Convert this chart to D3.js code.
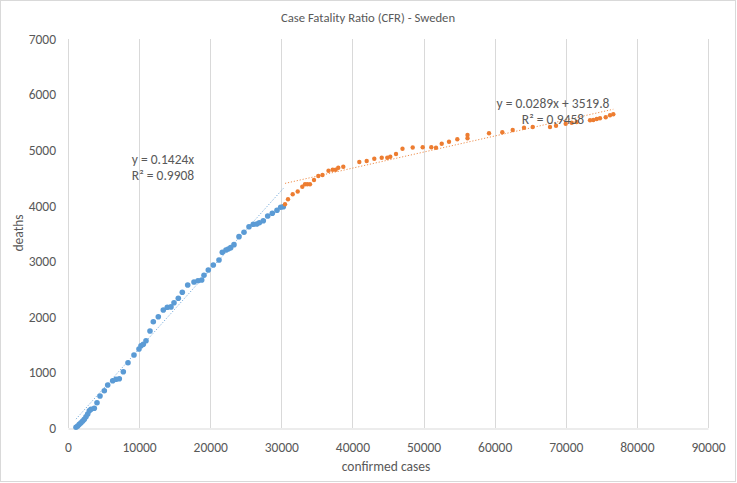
<!DOCTYPE html>
<html>
<head>
<meta charset="utf-8">
<script src="https://cdn.jsdelivr.net/npm/d3@7"></script>
<style>
  html, body { margin: 0; padding: 0; background: #fff; }
  svg { display: block; font-family: Carlito, Calibri, Lato, sans-serif; }
</style>
</head>
<body>
<svg id="chart" width="737" height="483"></svg>
<script>
const title = "Case Fatality Ratio (CFR) - Sweden";
const xTitle = "confirmed cases";
const yTitle = "deaths";
const xTicks = [0, 10000, 20000, 30000, 40000, 50000, 60000, 70000, 80000, 90000];
const yTicks = [0, 1000, 2000, 3000, 4000, 5000, 6000, 7000];

const blueCases = [1125, 1364, 1589, 1828, 2067, 2292, 2531, 2770, 2995, 3234, 3699, 4078, 4500, 5105, 5583, 6286, 6750, 7214, 7777, 8438, 9281, 9984, 10266, 10589, 10969, 11531, 11995, 12698, 13402, 13964, 14485, 14907, 15511, 16074, 16833, 17719, 18282, 18802, 19125, 19730, 20433, 21235, 21699, 22219, 22542, 22880, 23344, 24047, 24750, 25454, 26058, 26536, 26902, 27465, 28083, 28730, 29391, 29911, 30277];
const blueDeaths = [13, 36, 67, 95, 126, 157, 203, 252, 311, 337, 355, 455, 576, 671, 774, 851, 876, 887, 1013, 1175, 1314, 1422, 1481, 1506, 1571, 1746, 1913, 2003, 2123, 2172, 2179, 2255, 2334, 2442, 2573, 2627, 2651, 2663, 2748, 2843, 2933, 3023, 3162, 3203, 3221, 3245, 3299, 3443, 3522, 3622, 3666, 3671, 3694, 3730, 3815, 3864, 3918, 3972, 3982];

const orangeCases = [30516, 30938, 31599, 32302, 32949, 33329, 33652, 34032, 34594, 35199, 35790, 36634, 37224, 37646, 38012, 38715, 40965, 42005, 43074, 44115, 44902, 45324, 46126, 47040, 48474, 49881, 51090, 51751, 52553, 53579, 54746, 56181, 56181, 59204, 61074, 62537, 64126, 65350, 67782, 68626, 69990, 70834, 71537, 73408, 73872, 74350, 74814, 75615, 76220, 76684];
const orangeDeaths = [4026, 4116, 4207, 4256, 4342, 4385, 4385, 4385, 4463, 4535, 4553, 4630, 4648, 4648, 4684, 4702, 4787, 4805, 4846, 4864, 4864, 4882, 4931, 5026, 5048, 5051, 5051, 5044, 5116, 5152, 5197, 5273, 5213, 5303, 5321, 5363, 5404, 5417, 5417, 5440, 5476, 5494, 5507, 5537, 5543, 5561, 5573, 5591, 5627, 5645];

const blueFit = { slope: 0.1424, intercept: 0 };
const orangeFit = { slope: 0.0289, intercept: 3519.8 };
const blueLabel = ["y = 0.1424x", "R² = 0.9908"];
const orangeLabel = ["y = 0.0289x + 3519.8", "R² = 0.9458"];

const svg = d3.select("#chart");
const W = 737, H = 483;
const textColor = "#595959";
const gridColor = "#d9d9d9";
const blue = "#5b9bd5", orange = "#ed7d31";
const FONT = "Carlito, Calibri, Lato, sans-serif";
const fs = 13.5;

const x = d3.scaleLinear().domain([0, 90000]).range([68, 708]);
const y = d3.scaleLinear().domain([0, 7000]).range([428, 39]);

// outer border
svg.append("rect").attr("x", 0.5).attr("y", 0.5).attr("width", W - 2).attr("height", H - 2)
  .attr("fill", "#fff").attr("stroke", gridColor);

// vertical gridlines
svg.append("g").selectAll("line").data(xTicks).join("line")
  .attr("x1", d => Math.round(x(d)) + 0.5).attr("x2", d => Math.round(x(d)) + 0.5)
  .attr("y1", y(7000)).attr("y2", y(0))
  .attr("stroke", gridColor).attr("stroke-width", 1);

// x axis
const xAxis = d3.axisBottom(x).tickValues(xTicks).tickSize(0).tickPadding(14).tickFormat(d3.format("d"));
const gx = svg.append("g").attr("transform", `translate(0,${y(0) + 0.5})`).call(xAxis);
gx.select(".domain").attr("stroke", gridColor);
gx.selectAll("text").attr("fill", textColor).attr("font-size", fs).attr("font-family", FONT);

// y axis
const yAxis = d3.axisLeft(y).tickValues(yTicks).tickSize(0).tickPadding(12).tickFormat(d3.format("d"));
const gy = svg.append("g").attr("transform", `translate(${x(0)},0)`).call(yAxis);
gy.select(".domain").remove();
gy.selectAll("text").attr("fill", textColor).attr("font-size", fs).attr("font-family", FONT);

// trendlines
function trend(cases, fit, color) {
  const x0 = d3.min(cases), x1 = d3.max(cases);
  svg.append("line")
    .attr("x1", x(x0)).attr("y1", y(fit.slope * x0 + fit.intercept))
    .attr("x2", x(x1)).attr("y2", y(fit.slope * x1 + fit.intercept))
    .attr("stroke", color).attr("stroke-width", 1)
    .attr("stroke-dasharray", "1.2,1.8").attr("opacity", 0.85);
}
trend(blueCases, blueFit, blue);
trend(orangeCases, orangeFit, orange);

// points
svg.append("g").selectAll("circle").data(blueCases.map((c, i) => [c, blueDeaths[i]])).join("circle")
  .attr("cx", d => x(d[0])).attr("cy", d => y(d[1])).attr("r", 2.8).attr("fill", blue);
svg.append("g").selectAll("circle").data(orangeCases.map((c, i) => [c, orangeDeaths[i]])).join("circle")
  .attr("cx", d => x(d[0])).attr("cy", d => y(d[1])).attr("r", 2.2).attr("fill", orange);

// trend labels
function label(lines, cx, cy) {
  svg.append("g").selectAll("text").data(lines).join("text")
    .attr("x", cx).attr("y", (d, i) => cy + i * 16)
    .attr("text-anchor", "middle").attr("dominant-baseline", "central")
    .attr("fill", textColor).attr("font-size", fs).text(d => d);
}
label(blueLabel, 163, 159);
label(orangeLabel, 553, 103);

// titles
svg.append("text").attr("x", 368).attr("y", 17).attr("text-anchor", "middle").attr("dominant-baseline", "central")
  .attr("fill", textColor).attr("font-size", 12.7).text(title);
svg.append("text").attr("x", 386).attr("y", 466).attr("text-anchor", "middle").attr("dominant-baseline", "central")
  .attr("fill", textColor).attr("font-size", fs).text(xTitle);
svg.append("text").attr("transform", "translate(18,233) rotate(-90)").attr("text-anchor", "middle").attr("dominant-baseline", "central")
  .attr("fill", textColor).attr("font-size", fs).text(yTitle);
</script>
</body>
</html>
